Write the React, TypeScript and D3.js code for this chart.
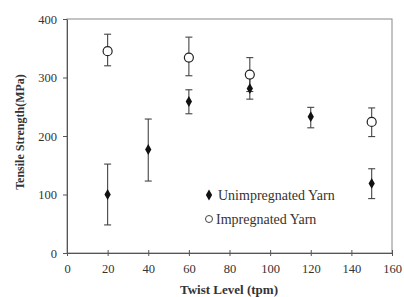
import React, { useEffect, useRef } from "react";
import * as d3 from "d3";

// twist levels (tpm) and tensile strength (MPa)
const unimpX = [20, 40, 60, 90, 120, 150];
const unimpY = [100, 177, 259, 281, 233, 119];
const unimpLo = [48, 123, 238, 263, 214, 93];
const unimpHi = [152, 229, 279, 300, 249, 144];

const impX = [20, 60, 90, 150];
const impY = [345, 334, 305, 224];
const impLo = [320, 303, 276, 199];
const impHi = [374, 369, 334, 248];

const xTicks = [0, 20, 40, 60, 80, 100, 120, 140, 160];
const yTicks = [0, 100, 200, 300, 400];

const W = 404;
const H = 297;
const margin = { top: 19, right: 12, bottom: 44, left: 67 };
const font = "Liberation Serif, DejaVu Serif, serif";

const App: React.FC = () => {
  const svgRef = useRef<SVGSVGElement | null>(null);

  useEffect(() => {
    if (!svgRef.current) return;
    const root = d3.select(svgRef.current);
    root.selectAll("*").remove();

    const x = d3.scaleLinear().domain([0, 160]).range([margin.left, W - margin.right]);
    const y = d3.scaleLinear().domain([0, 400]).range([H - margin.bottom, margin.top]);

    // plot frame
    root
      .append("rect")
      .attr("x", x(0))
      .attr("y", y(400))
      .attr("width", x(160) - x(0))
      .attr("height", y(0) - y(400))
      .attr("fill", "none")
      .attr("stroke", "#888")
      .attr("stroke-width", 1);

    const xAxis = root
      .append("g")
      .attr("transform", `translate(0,${y(0)})`)
      .call(d3.axisBottom(x).tickValues(xTicks).tickSize(3).tickSizeOuter(0));
    const yAxis = root
      .append("g")
      .attr("transform", `translate(${x(0)},0)`)
      .call(d3.axisLeft(y).tickValues(yTicks).tickSize(4).tickSizeOuter(0));

    [xAxis, yAxis].forEach((g) => {
      g.attr("font-family", font).attr("font-size", 12.5);
      g.select(".domain").attr("stroke", "#555");
      g.selectAll(".tick line").attr("stroke", "#555");
      g.selectAll(".tick text").attr("fill", "#333");
    });
    // x ticks cross the axis line
    xAxis.selectAll(".tick line").attr("y1", -3).attr("y2", 3);
    xAxis.selectAll(".tick text").attr("y", 20).attr("dy", 0);
    yAxis.selectAll(".tick text").attr("x", -10).attr("dy", "0.33em");

    // error bars
    const drawErr = (xs: number[], lo: number[], hi: number[]) => {
      const g = root.append("g").attr("stroke", "#444").attr("stroke-width", 1.1);
      xs.forEach((xv, i) => {
        const cx = x(xv);
        g.append("line").attr("x1", cx).attr("x2", cx).attr("y1", y(lo[i])).attr("y2", y(hi[i]));
        [lo[i], hi[i]].forEach((v) =>
          g.append("line").attr("x1", cx - 3.5).attr("x2", cx + 3.5).attr("y1", y(v)).attr("y2", y(v))
        );
      });
    };
    drawErr(impX, impLo, impHi);
    drawErr(unimpX, unimpLo, unimpHi);

    const diamond = d3.symbol().type(d3.symbolDiamond).size(34);

    root
      .append("g")
      .selectAll("circle")
      .data(impX)
      .enter()
      .append("circle")
      .attr("cx", (d) => x(d))
      .attr("cy", (_, i) => y(impY[i]))
      .attr("r", 4.5)
      .attr("fill", "#fff")
      .attr("stroke", "#222")
      .attr("stroke-width", 1.2);

    root
      .append("g")
      .selectAll("path")
      .data(unimpX)
      .enter()
      .append("path")
      .attr("d", diamond)
      .attr("transform", (d, i) => `translate(${x(d)},${y(unimpY[i])})`)
      .attr("fill", "#111");

    // legend
    const leg = root.append("g").attr("font-family", font).attr("font-size", 14);
    leg.append("path").attr("d", diamond).attr("transform", "translate(209,195)").attr("fill", "#111");
    leg.append("text").attr("x", 218).attr("y", 200).attr("fill", "#333").text("Unimpregnated Yarn");
    leg
      .append("circle")
      .attr("cx", 209)
      .attr("cy", 219)
      .attr("r", 3.5)
      .attr("fill", "#fff")
      .attr("stroke", "#444");
    leg.append("text").attr("x", 216).attr("y", 224).attr("fill", "#333").text("Impregnated Yarn");

    // axis titles
    root
      .append("text")
      .attr("x", 229)
      .attr("y", 294)
      .attr("text-anchor", "middle")
      .attr("fill", "#333")
      .attr("font-family", font)
      .attr("font-size", 13)
      .attr("font-weight", "bold")
      .text("Twist Level (tpm)");

    root
      .append("text")
      .attr("transform", `translate(24,132) rotate(-90)`)
      .attr("text-anchor", "middle")
      .attr("fill", "#333")
      .attr("font-family", font)
      .attr("font-size", 12)
      .attr("font-weight", "bold")
      .text("Tensile Strength(MPa)");
  }, []);

  return (
    <div style={{ position: "absolute", left: 0, top: 0 }}>
      <svg ref={svgRef} width={W} height={H} style={{ display: "block", background: "#fff" }} />
    </div>
  );
};

export default App;
